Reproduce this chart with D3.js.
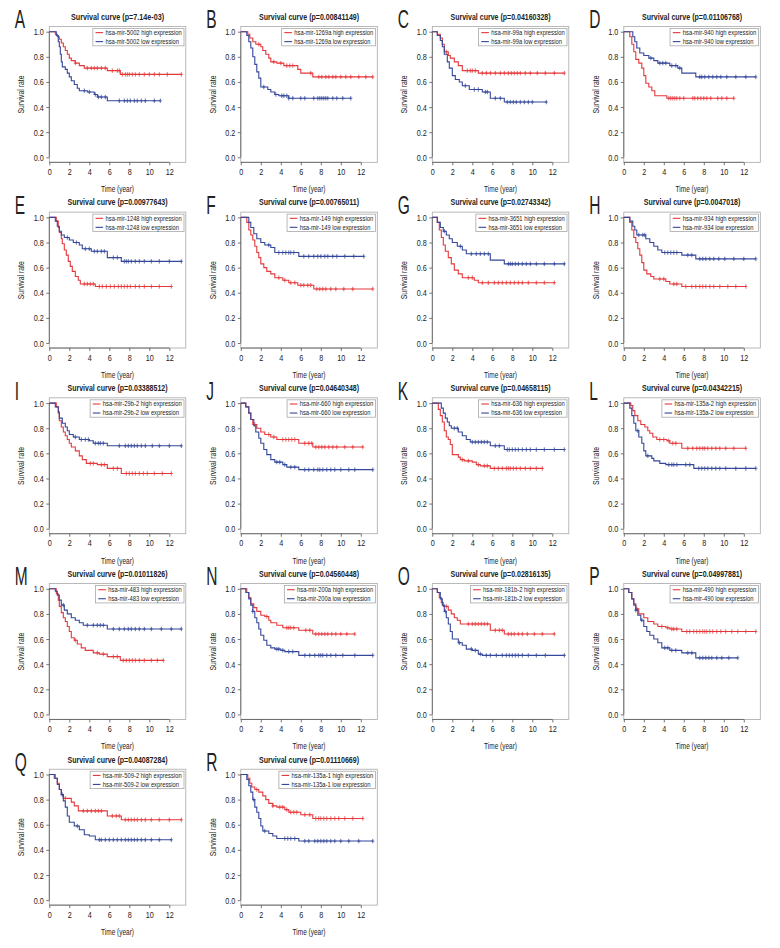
<!DOCTYPE html>
<html><head><meta charset="utf-8">
<script src="https://cdn.jsdelivr.net/npm/d3@7"></script>
<style>
html,body{margin:0;padding:0;background:#fff;}
text{font-family:"Liberation Sans",Arial,sans-serif;fill:#222;}
</style></head>
<body>
<svg id="c" width="780" height="948"></svg>
<script>
const panelLetters = ["A","B","C","D","E","F","G","H","I","J","K","L","M","N","O","P","Q","R"];
const mirNames = ["hsa-mir-5002","hsa-mir-1269a","hsa-mir-99a","hsa-mir-940","hsa-mir-1248","hsa-mir-149","hsa-mir-3651","hsa-mir-934","hsa-mir-29b-2","hsa-mir-660","hsa-mir-636","hsa-mir-135a-2","hsa-mir-483","hsa-mir-200a","hsa-mir-181b-2","hsa-mir-490","hsa-mir-509-2","hsa-mir-135a-1"];
const pValues = ["7.14e-03","0.00841149","0.04160328","0.01106768","0.00977643","0.00765011","0.02743342","0.0047018","0.03388512","0.04640348","0.04658115","0.04342215","0.01011826","0.04560448","0.02816135","0.04997881","0.04087284","0.01110669"];
const xTicks = [0,2,4,6,8,10,12];
const yTicks = [0.0,0.2,0.4,0.6,0.8,1.0];

// high expression (red) steps: [time, survival after drop]
const highSteps = [
 [[0.6,0.98],[0.8,0.96],[1.0,0.94],[1.2,0.91],[1.4,0.88],[1.6,0.85],[1.8,0.82],[2.0,0.79],[2.2,0.77],[2.6,0.75],[3.0,0.73],[3.5,0.71],[5.8,0.69],[7.1,0.66]],
 [[0.7,0.98],[0.9,0.95],[1.2,0.92],[1.5,0.90],[2.0,0.88],[2.2,0.85],[2.5,0.82],[2.8,0.79],[3.0,0.76],[3.6,0.75],[4.3,0.73],[5.7,0.70],[6.0,0.67],[7.2,0.64]],
 [[0.5,0.98],[0.8,0.95],[1.0,0.90],[1.2,0.84],[1.6,0.81],[1.8,0.79],[2.2,0.76],[2.6,0.73],[3.0,0.69],[4.6,0.67]],
 [[0.6,0.96],[0.8,0.90],[1.0,0.84],[1.2,0.78],[1.5,0.75],[1.8,0.71],[2.0,0.65],[2.2,0.59],[2.5,0.56],[2.8,0.53],[3.1,0.49],[4.3,0.47]],
 [[0.7,0.97],[0.9,0.92],[1.0,0.88],[1.2,0.83],[1.3,0.79],[1.5,0.74],[1.7,0.70],[1.9,0.65],[2.1,0.61],[2.3,0.57],[2.6,0.53],[2.9,0.50],[3.1,0.47],[4.6,0.45]],
 [[0.6,0.96],[0.8,0.90],[1.0,0.86],[1.2,0.82],[1.4,0.77],[1.6,0.72],[1.8,0.68],[2.0,0.63],[2.3,0.60],[2.6,0.57],[3.0,0.55],[3.4,0.52],[4.2,0.50],[4.8,0.48],[5.7,0.46],[7.3,0.43]],
 [[0.5,0.96],[0.7,0.90],[0.9,0.84],[1.1,0.78],[1.3,0.73],[1.6,0.68],[1.9,0.63],[2.2,0.58],[2.6,0.55],[3.0,0.52],[4.2,0.50],[4.6,0.48]],
 [[0.6,0.96],[0.8,0.90],[1.0,0.84],[1.2,0.80],[1.4,0.75],[1.6,0.70],[1.8,0.64],[2.0,0.58],[2.3,0.55],[2.7,0.53],[3.0,0.51],[4.2,0.49],[4.6,0.47],[5.8,0.45]],
 [[0.7,0.97],[0.9,0.92],[1.0,0.86],[1.2,0.81],[1.4,0.77],[1.6,0.74],[1.8,0.71],[2.0,0.68],[2.2,0.65],[2.6,0.62],[3.0,0.58],[3.3,0.55],[3.7,0.52],[4.8,0.51],[5.8,0.48],[7.2,0.44]],
 [[0.5,0.97],[0.8,0.92],[1.0,0.87],[1.2,0.83],[1.6,0.80],[2.0,0.77],[2.4,0.75],[3.0,0.73],[3.6,0.71],[5.8,0.68],[7.2,0.65]],
 [[0.6,0.95],[0.8,0.90],[1.0,0.85],[1.2,0.78],[1.4,0.73],[1.6,0.71],[1.8,0.67],[2.0,0.59],[2.6,0.57],[2.8,0.55],[3.2,0.54],[4.0,0.53],[4.4,0.51],[4.8,0.50],[5.8,0.48]],
 [[0.7,0.98],[0.9,0.94],[1.1,0.90],[1.4,0.86],[1.7,0.83],[2.1,0.81],[2.4,0.78],[2.6,0.76],[2.9,0.73],[3.3,0.71],[4.3,0.70],[4.6,0.68],[5.8,0.64]],
 [[0.7,0.96],[0.9,0.91],[1.0,0.86],[1.2,0.81],[1.4,0.77],[1.6,0.74],[1.8,0.70],[2.0,0.66],[2.2,0.61],[2.5,0.59],[2.8,0.56],[3.2,0.53],[3.6,0.51],[4.4,0.49],[5.0,0.48],[5.8,0.46],[7.1,0.43]],
 [[0.6,0.97],[0.8,0.93],[1.0,0.88],[1.3,0.85],[1.6,0.82],[2.0,0.79],[2.4,0.78],[2.8,0.75],[3.0,0.73],[3.6,0.71],[4.2,0.69],[5.8,0.67],[7.2,0.64]],
 [[0.5,0.97],[0.7,0.93],[0.9,0.89],[1.1,0.86],[1.6,0.83],[1.9,0.80],[2.2,0.77],[2.5,0.75],[2.8,0.72],[5.8,0.67],[7.2,0.64]],
 [[0.5,0.97],[0.8,0.92],[1.0,0.88],[1.2,0.84],[1.5,0.80],[2.0,0.77],[2.4,0.74],[3.0,0.72],[3.4,0.70],[4.2,0.69],[4.6,0.68],[5.8,0.66]],
 [[0.6,0.97],[0.8,0.93],[1.0,0.88],[1.2,0.84],[1.4,0.81],[2.2,0.78],[2.5,0.75],[2.9,0.71],[5.8,0.67],[7.2,0.64]],
 [[0.7,0.97],[0.9,0.93],[1.1,0.90],[1.4,0.88],[1.8,0.86],[2.2,0.83],[2.5,0.80],[2.8,0.77],[3.2,0.75],[3.6,0.74],[4.4,0.72],[4.8,0.70],[6.0,0.68],[7.2,0.65]]
];
const highCensor = [
 [2.6,3.8,4.2,4.5,4.8,5.2,5.6,6.3,6.8,7.0,7.3,7.6,7.8,8.0,8.3,8.6,9.0,9.5,10.0,10.5,11.0,11.8,13.2],
 [1.8,3.3,4.0,4.6,4.9,5.2,7.0,7.8,8.1,8.5,8.8,9.2,9.5,10.0,10.5,11.0,11.8,12.5,13.2],
 [1.4,3.5,3.8,4.0,4.3,5.0,5.4,5.8,6.3,6.8,7.2,7.6,7.9,8.2,8.5,8.8,9.3,9.8,10.5,11.3,12.2,13.2],
 [4.5,4.7,4.9,5.1,5.3,5.6,6.0,6.9,7.1,7.4,7.7,8.0,8.3,8.7,9.4,9.8,10.3,11.0],
 [3.5,3.8,4.1,4.4,5.0,5.3,5.7,6.1,6.5,6.9,7.2,7.5,7.8,8.1,8.6,9.0,9.5,10.2,11.0,12.2],
 [3.8,4.4,5.0,5.4,6.0,6.3,6.7,7.0,7.6,7.9,8.2,8.5,9.0,9.5,10.3,11.2,13.2],
 [3.6,4.0,5.0,5.6,6.2,6.6,7.0,7.4,7.8,8.2,8.6,9.0,9.6,10.4,11.2,12.2],
 [3.6,4.0,5.0,5.3,6.2,6.8,7.2,7.6,7.9,8.2,8.6,9.0,9.6,10.4,11.2,12.2],
 [4.1,4.4,5.2,5.5,6.4,6.8,7.7,8.0,8.3,8.6,9.0,9.4,9.8,10.5,11.3,12.2],
 [1.4,2.8,3.3,4.2,4.5,4.8,5.1,5.4,6.4,6.8,7.1,7.5,7.8,8.1,8.4,8.8,9.2,9.6,10.4,11.2,12.2],
 [3.0,3.6,4.6,5.2,5.5,6.2,6.6,7.0,7.4,7.6,7.8,8.1,8.4,8.8,9.3,9.8,10.4,11.0],
 [3.6,4.0,4.5,4.9,5.2,6.4,6.9,7.3,7.6,7.9,8.1,8.4,8.8,9.2,9.6,10.2,11.0,12.2],
 [2.6,4.8,5.4,6.4,6.8,7.4,7.7,8.0,8.3,8.6,9.0,9.5,10.2,10.8,11.4],
 [2.6,4.6,4.8,5.0,5.3,6.5,6.9,7.5,7.8,8.1,8.4,8.7,9.1,9.5,10.0,10.6,11.4],
 [1.4,3.6,4.0,4.3,4.6,4.9,5.2,5.5,6.3,6.7,7.0,7.6,7.9,8.2,8.6,9.0,9.5,10.2,11.0,12.2],
 [1.3,3.8,4.4,4.8,5.0,5.3,6.3,6.6,7.0,7.3,7.6,7.9,8.1,8.3,8.6,8.9,9.3,9.7,10.2,10.8,11.4,12.2,13.2],
 [1.6,3.4,3.8,4.2,4.6,4.9,5.2,6.3,6.7,7.0,7.6,7.9,8.2,8.5,8.8,9.2,9.6,10.2,11.0,12.0,13.2],
 [1.6,3.2,3.9,4.2,4.6,5.0,5.3,5.6,6.4,6.9,7.5,7.8,8.0,8.3,8.6,9.0,9.4,9.8,10.4,11.2,12.2]
];
// low expression (blue)
const lowSteps = [
 [[0.7,0.97],[0.9,0.92],[1.0,0.88],[1.1,0.82],[1.2,0.76],[1.3,0.72],[1.6,0.70],[1.8,0.67],[2.0,0.64],[2.2,0.61],[2.5,0.58],[2.8,0.55],[3.0,0.53],[3.8,0.52],[4.5,0.50],[4.8,0.48],[5.8,0.45]],
 [[0.6,0.97],[0.8,0.92],[1.0,0.87],[1.2,0.80],[1.4,0.74],[1.6,0.68],[1.8,0.63],[2.0,0.56],[2.7,0.54],[3.0,0.52],[3.4,0.50],[3.8,0.49],[4.8,0.47]],
 [[0.5,0.97],[0.8,0.93],[1.0,0.88],[1.2,0.82],[1.5,0.76],[1.7,0.71],[2.0,0.65],[2.3,0.62],[2.7,0.60],[3.0,0.57],[3.7,0.54],[5.0,0.52],[5.8,0.47],[7.2,0.44]],
 [[0.9,0.96],[1.1,0.92],[1.3,0.87],[1.6,0.83],[2.0,0.81],[2.5,0.79],[3.0,0.77],[3.4,0.75],[4.6,0.73],[5.4,0.71],[5.8,0.67],[7.2,0.64]],
 [[0.6,0.97],[0.8,0.93],[1.0,0.89],[1.2,0.86],[1.5,0.84],[2.0,0.82],[2.4,0.80],[3.0,0.78],[3.3,0.75],[4.2,0.73],[5.8,0.68],[7.2,0.65]],
 [[0.8,0.96],[1.0,0.92],[1.3,0.87],[1.6,0.83],[2.0,0.80],[2.4,0.78],[3.0,0.76],[3.4,0.72],[5.8,0.69]],
 [[0.5,0.96],[0.8,0.92],[1.1,0.89],[1.4,0.86],[1.7,0.83],[2.0,0.80],[2.5,0.77],[3.0,0.74],[3.4,0.71],[5.8,0.66],[7.2,0.63]],
 [[0.6,0.97],[0.9,0.93],[1.1,0.90],[1.3,0.86],[2.2,0.83],[2.6,0.80],[3.0,0.77],[3.4,0.74],[3.8,0.72],[5.8,0.70],[7.2,0.67]],
 [[0.6,0.97],[0.9,0.93],[1.0,0.88],[1.3,0.84],[1.6,0.81],[1.8,0.78],[2.0,0.75],[2.4,0.73],[3.0,0.71],[4.0,0.70],[4.4,0.68],[5.8,0.66]],
 [[0.5,0.97],[0.8,0.92],[1.0,0.87],[1.3,0.82],[1.5,0.77],[1.8,0.72],[2.0,0.68],[2.3,0.63],[2.6,0.59],[3.0,0.55],[3.4,0.53],[4.2,0.51],[4.6,0.49],[5.8,0.47]],
 [[0.9,0.96],[1.1,0.92],[1.3,0.88],[1.5,0.85],[1.7,0.82],[1.9,0.80],[2.6,0.77],[3.0,0.74],[3.4,0.71],[3.8,0.69],[5.8,0.66],[7.2,0.63]],
 [[0.6,0.96],[0.8,0.90],[1.0,0.84],[1.2,0.78],[1.5,0.73],[1.8,0.68],[2.0,0.62],[2.2,0.58],[2.8,0.56],[3.0,0.54],[3.6,0.52],[4.2,0.51],[7.0,0.48]],
 [[0.6,0.98],[0.8,0.95],[1.0,0.91],[1.2,0.87],[1.5,0.83],[1.8,0.80],[2.2,0.77],[2.6,0.75],[3.0,0.73],[3.4,0.71],[5.8,0.68]],
 [[0.5,0.97],[0.8,0.92],[1.0,0.87],[1.2,0.82],[1.4,0.77],[1.6,0.73],[1.8,0.68],[2.0,0.63],[2.3,0.59],[2.6,0.55],[3.0,0.53],[3.4,0.52],[4.0,0.51],[4.4,0.50],[5.8,0.47]],
 [[0.5,0.97],[0.8,0.92],[1.0,0.87],[1.2,0.82],[1.4,0.77],[1.6,0.72],[1.8,0.66],[2.0,0.60],[2.6,0.57],[3.0,0.55],[3.4,0.52],[4.0,0.51],[4.6,0.48],[5.0,0.47]],
 [[0.5,0.97],[0.8,0.92],[1.0,0.87],[1.2,0.83],[1.4,0.79],[1.7,0.75],[2.0,0.70],[2.3,0.66],[2.6,0.63],[3.0,0.60],[3.4,0.57],[3.8,0.53],[4.6,0.51],[5.8,0.49],[7.2,0.45]],
 [[0.5,0.97],[0.8,0.92],[1.0,0.88],[1.2,0.84],[1.4,0.79],[1.6,0.74],[1.8,0.67],[2.0,0.62],[2.5,0.59],[3.0,0.56],[3.5,0.52],[4.0,0.51],[4.6,0.48]],
 [[0.6,0.96],[0.8,0.91],[1.0,0.86],[1.2,0.80],[1.4,0.74],[1.6,0.70],[1.8,0.65],[2.0,0.59],[2.2,0.55],[2.8,0.53],[3.2,0.51],[3.6,0.49],[5.8,0.47]]
];
const lowCensor = [
 [3.5,4.0,4.6,4.9,5.2,5.6,7.0,7.5,7.8,8.1,8.5,8.8,9.2,9.6,10.5,11.1],
 [2.3,3.5,4.1,4.3,4.6,4.8,5.2,6.0,6.4,7.3,7.7,7.9,8.1,8.3,8.5,8.7,9.2,9.6,10.2,11.0],
 [3.3,4.2,4.6,5.3,5.5,6.3,6.8,7.5,7.8,8.1,8.4,8.8,9.2,9.6,10.0,11.4],
 [2.7,3.6,3.9,4.2,4.8,5.2,5.6,7.6,7.8,8.1,8.5,8.9,9.3,9.7,10.3,11.2,12.2,13.2],
 [1.8,2.7,3.6,4.0,4.5,4.8,5.2,5.5,6.4,6.8,7.5,7.7,7.9,8.2,8.6,9.0,9.5,10.2,11.0,12.0,13.2],
 [2.8,3.8,4.2,4.5,4.8,5.0,5.3,6.3,6.8,7.3,7.7,8.0,8.4,8.7,9.2,9.6,10.4,11.3,12.3],
 [1.2,2.8,3.9,4.4,4.8,5.2,5.6,7.6,7.8,8.0,8.3,8.6,9.0,9.4,9.8,10.4,11.2,12.2,13.2],
 [1.5,1.9,2.1,4.1,4.4,4.7,5.0,5.3,6.4,6.8,7.6,7.9,8.2,8.6,9.0,9.5,10.1,11.0,12.0,13.2],
 [2.6,3.2,3.6,3.9,4.6,4.9,5.1,5.4,7.0,7.6,7.9,8.2,8.5,8.8,9.2,9.6,10.3,11.0,12.0,13.2],
 [3.6,3.9,4.4,5.0,5.4,6.4,6.8,7.3,7.7,7.9,8.2,8.6,9.0,9.4,10.0,10.8,11.4,13.2],
 [2.2,2.5,4.0,4.3,4.6,4.9,5.2,5.5,6.3,6.7,7.5,7.7,8.0,8.3,8.6,9.0,9.4,9.8,10.4,11.2,12.2,13.2],
 [1.4,2.4,4.5,4.8,5.0,5.3,6.2,6.6,7.5,7.8,8.1,8.4,8.8,9.2,9.6,10.2,11.2,12.2,13.2],
 [1.4,3.8,4.4,4.8,5.1,5.4,6.4,7.0,7.5,7.9,8.2,8.6,9.0,9.5,10.2,11.2,12.2,13.2],
 [1.2,3.6,3.8,4.2,4.8,5.2,6.4,6.9,7.4,7.8,8.0,8.2,8.6,9.0,9.5,10.2,11.4,13.2],
 [1.3,2.7,3.9,4.3,4.8,5.4,5.8,6.4,7.0,7.4,7.7,8.0,8.3,8.6,9.0,9.6,10.4,11.3,13.2],
 [1.2,1.8,4.1,4.4,4.8,5.2,6.4,6.8,7.6,7.9,8.2,8.5,8.8,9.3,9.8,10.5,11.4],
 [1.3,2.8,5.0,5.2,5.6,6.0,6.4,6.8,7.2,7.6,7.9,8.2,8.5,8.8,9.2,9.6,10.2,11.0,12.2],
 [1.3,2.4,4.4,4.7,5.0,5.4,6.4,6.8,7.4,7.7,8.0,8.3,8.6,9.0,9.4,10.0,10.8,11.8,13.2]
];

const RED = "#e5383b", BLUE = "#34479a";
const svg = d3.select("#c");
const COLS = 4, colPitch = 191.5, rowPitch = 185.7;

// compress text horizontally to a target width (keeps real text)
function fitWidth(sel, widthFn){
  sel.each(function(d, k){
    const w = widthFn(this.textContent, this.getComputedTextLength());
    d3.select(this).attr("textLength", w).attr("lengthAdjust","spacingAndGlyphs");
  });
  return sel;
}
function survAt(steps, t){ let s = 1; for (const [st, sv] of steps) { if (st <= t) s = sv; } return s; }

panelLetters.forEach((letter, i) => {
  const c = i % COLS, r = Math.floor(i / COLS);
  const x0 = 49.3 + colPitch*c, y1 = 31.7 + rowPitch*r;
  const x = d3.scaleLinear().domain([0,12]).range([x0, x0+120]);
  const y = d3.scaleLinear().domain([0,1]).range([y1+125.6, y1]);
  const bx0 = x(0), bx1 = x(13.65), by0 = y(1.042), by1 = y(-0.04);
  const g = svg.append("g");

  g.append("rect").attr("x", bx0).attr("y", by0).attr("width", bx1-bx0).attr("height", by1-by0)
    .attr("fill","none").attr("stroke","#a8a8a8").attr("stroke-width",0.8);

  // y axis
  const ya = g.append("g").attr("transform", `translate(${bx0},0)`)
    .call(d3.axisLeft(y).tickValues(yTicks).tickFormat(d3.format(".1f")).tickSize(3).tickPadding(2.5));
  ya.select(".domain").attr("stroke","#555").attr("stroke-width",0.8).attr("d", `M0,${y(0)}V${y(1)}`);
  ya.selectAll(".tick line").attr("stroke","#555").attr("stroke-width",0.8);
  fitWidth(ya.selectAll("text").attr("font-size", 9.5).attr("fill","#222")
    .style("font-family",'"Liberation Sans",Arial,sans-serif'), (s, L) => L*0.76);
  // x axis
  const xa = g.append("g").attr("transform", `translate(0,${by1})`)
    .call(d3.axisBottom(x).tickValues(xTicks).tickFormat(d3.format("d")).tickSize(3).tickPadding(3));
  xa.select(".domain").attr("stroke","#555").attr("stroke-width",0.8).attr("d", `M${x(0)},0H${x(12)}`);
  xa.selectAll(".tick line").attr("stroke","#555").attr("stroke-width",0.8);
  fitWidth(xa.selectAll("text").attr("font-size", 9.5).attr("fill","#222")
    .style("font-family",'"Liberation Sans",Arial,sans-serif'), (s, L) => L*0.76);

  // labels
  fitWidth(g.append("text").attr("x", (bx0+bx1)/2).attr("y", y1 - 12).attr("text-anchor","middle")
    .attr("font-size", 9.8).attr("font-weight","bold").text(`Survival curve (p=${pValues[i]})`), s => s.length*3.45);
  fitWidth(g.append("text").attr("x", x0 - 34.5).attr("y", y1 - 3.4).attr("font-size", 25).text(letter), (s, L) => L*0.62);
  fitWidth(g.append("text").attr("transform", `translate(${x0-25},${(y(0)+y(1))/2}) rotate(-90)`).attr("text-anchor","middle")
    .attr("font-size", 9).text("Survival rate"), () => 38);
  fitWidth(g.append("text").attr("x", (bx0+bx1)/2).attr("y", y1 + 160.5).attr("text-anchor","middle")
    .attr("font-size", 9.5).text("Time (year)"), () => 33);

  // curves
  const line = d3.line().x(d => x(d[0])).y(d => y(d[1])).curve(d3.curveStepAfter);
  const series = [
    {steps: highSteps[i], cens: highCensor[i], color: RED},
    {steps: lowSteps[i], cens: lowCensor[i], color: BLUE}
  ];
  series.forEach(sr => {
    const end = d3.max(sr.cens);
    const pts = [[0,1], ...sr.steps, [end, sr.steps[sr.steps.length-1][1]]];
    g.append("path").attr("d", line(pts)).attr("fill","none").attr("stroke", sr.color).attr("stroke-width",1.1);
    g.selectAll(null).data(sr.cens).enter().append("path")
      .attr("d", t => { const px = x(t), py = y(survAt(sr.steps, t)); return `M${px},${py-2.2}V${py+2.2}M${px-1.6},${py}H${px+1.6}`; })
      .attr("stroke", sr.color).attr("stroke-width",0.8).attr("fill","none");
  });

  // legend
  const lg = g.append("g");
  const labels = [`${mirNames[i]} high expression`, `${mirNames[i]} low expression`];
  const lt = lg.selectAll("text").data(labels).enter().append("text")
    .attr("y", (d,k) => by0 + 2 + 6.6 + k*9).attr("font-size", 7.6).text(d => d);
  fitWidth(lt, s => s.length*2.72);
  const tw = d3.max(labels, s => s.length*2.72);
  const lw = tw + 15;
  const lx = bx1 - 1.8 - lw, ly = by0 + 2;
  lg.insert("rect", "text").attr("x", lx).attr("y", ly).attr("width", lw).attr("height", 17.4)
    .attr("fill","#fff").attr("stroke","#a8a8a8").attr("stroke-width",0.8);
  lt.attr("x", lx + 12.7);
  [RED, BLUE].forEach((col, k) => {
    lg.append("line").attr("x1", lx+2.7).attr("x2", lx+10.3).attr("y1", ly + 4.2 + k*9).attr("y2", ly + 4.2 + k*9)
      .attr("stroke", col).attr("stroke-width", 1.1);
  });
});
</script>
</body></html>
